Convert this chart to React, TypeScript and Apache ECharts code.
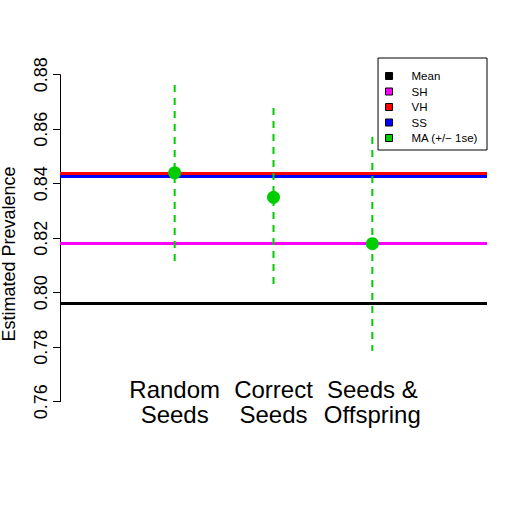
import React, { useEffect, useRef } from "react";
import * as echarts from "echarts";

const categories = ["Random\nSeeds", "Correct\nSeeds", "Seeds &\nOffspring"];
const catX = [1, 2, 3];
const maMean = [0.844, 0.835, 0.818];
const maLower = [0.8116, 0.8025, 0.7786];
const maUpper = [0.8762, 0.8678, 0.8571];
const refNames = ["Mean", "SH", "VH", "SS"];
const refValues = [0.7963, 0.818, 0.8438, 0.8428];
const refColors = ["#000000", "#FF00FF", "#FF0000", "#0000FF"];
const maName = "MA (+/\u2212 1se)";
const maColor = "#00CD00";
const yTitle = "Estimated Prevalence";

const FONT = "'Liberation Sans', Arial, Helvetica, sans-serif";

export default function App() {
  const ref = useRef<HTMLDivElement>(null);
  useEffect(() => {
    if (!ref.current) return;
    const chart = echarts.init(ref.current, null, { renderer: "svg" });
    const refSeries = refNames.map((n, i) => ({
      type: "line",
      name: n,
      data: [],
      itemStyle: { color: refColors[i] },
      lineStyle: { color: refColors[i] },
      z: 2,
      markLine: {
        silent: true,
        precision: 5,
        symbol: ["none", "none"],
        label: { show: false },
        lineStyle: { color: refColors[i], width: 3, type: "solid" },
        data: [{ yAxis: refValues[i] }],
      },
    }));
    chart.setOption({
      animation: false,
      textStyle: { fontFamily: FONT },
      grid: {
        left: 60,
        right: 32,
        top: 74.7,
        bottom: 117.3,
        containLabel: false,
        outerBoundsMode: "none",
      },
      xAxis: {
        type: "value",
        min: -0.16,
        max: 4.16,
        axisLine: { show: false, onZero: false },
        axisTick: { show: false },
        splitLine: { show: false },
        axisLabel: {
          customValues: catX,
          formatter: (v: number) => categories[catX.indexOf(v)] ?? "",
          fontSize: 24,
          lineHeight: 25,
          margin: -25,
          color: "#000",
          fontFamily: FONT,
        },
      },
      yAxis: {
        type: "value",
        min: 0.76,
        max: 0.88,
        interval: 0.02,
        axisLine: { show: true, onZero: false, lineStyle: { color: "#000", width: 1 } },
        axisTick: { show: true, length: 7, lineStyle: { color: "#000" } },
        splitLine: { show: false },
        axisLabel: {
          rotate: 90,
          fontSize: 18,
          color: "#000",
          margin: 10,
          fontFamily: FONT,
          formatter: (v: number) => v.toFixed(2),
        },
      },
      legend: {
        orient: "vertical",
        right: 32,
        top: 58,
        data: [...refNames, maName],
        icon: "rect",
        selectedMode: false,
        itemWidth: 7,
        itemHeight: 7,
        itemGap: 3.5,
        borderColor: "#000",
        borderWidth: 1,
        backgroundColor: "#fff",
        borderRadius: 0,
        padding: [12, 9, 6, 7],
        textStyle: { fontSize: 11.5, color: "#000", padding: [0, 0, 0, 14], fontFamily: FONT },
        itemStyle: { borderColor: "#000", borderWidth: 1 },
      },
      graphic: [
        {
          type: "text",
          x: 9,
          y: 254,
          rotation: Math.PI / 2,
          style: {
            text: yTitle,
            fontSize: 18,
            fill: "#000",
            align: "center",
            verticalAlign: "middle",
            fontFamily: FONT,
          },
        },
      ],
      series: [
        ...refSeries,
        {
          type: "custom",
          z: 5,
          silent: true,
          data: catX.map((x, i) => [x, maLower[i], maUpper[i]]),
          renderItem: (params: any, api: any) => {
            const p1 = api.coord([api.value(0), api.value(2)]);
            const p2 = api.coord([api.value(0), api.value(1)]);
            return {
              type: "line",
              shape: { x1: p1[0], y1: p1[1], x2: p2[0], y2: p2[1] },
              style: { stroke: maColor, lineWidth: 2, lineDash: [7, 6] },
            };
          },
        },
        {
          type: "scatter",
          name: maName,
          z: 6,
          symbolSize: 13,
          itemStyle: { color: maColor, opacity: 1 },
          data: catX.map((x, i) => [x, maMean[i]]),
        },
      ],
    } as any);
    return () => chart.dispose();
  }, []);
  return (
    <div
      ref={ref}
      style={{ position: "fixed", left: 0, top: 0, width: 519, height: 519, background: "#fff" }}
    />
  );
}
